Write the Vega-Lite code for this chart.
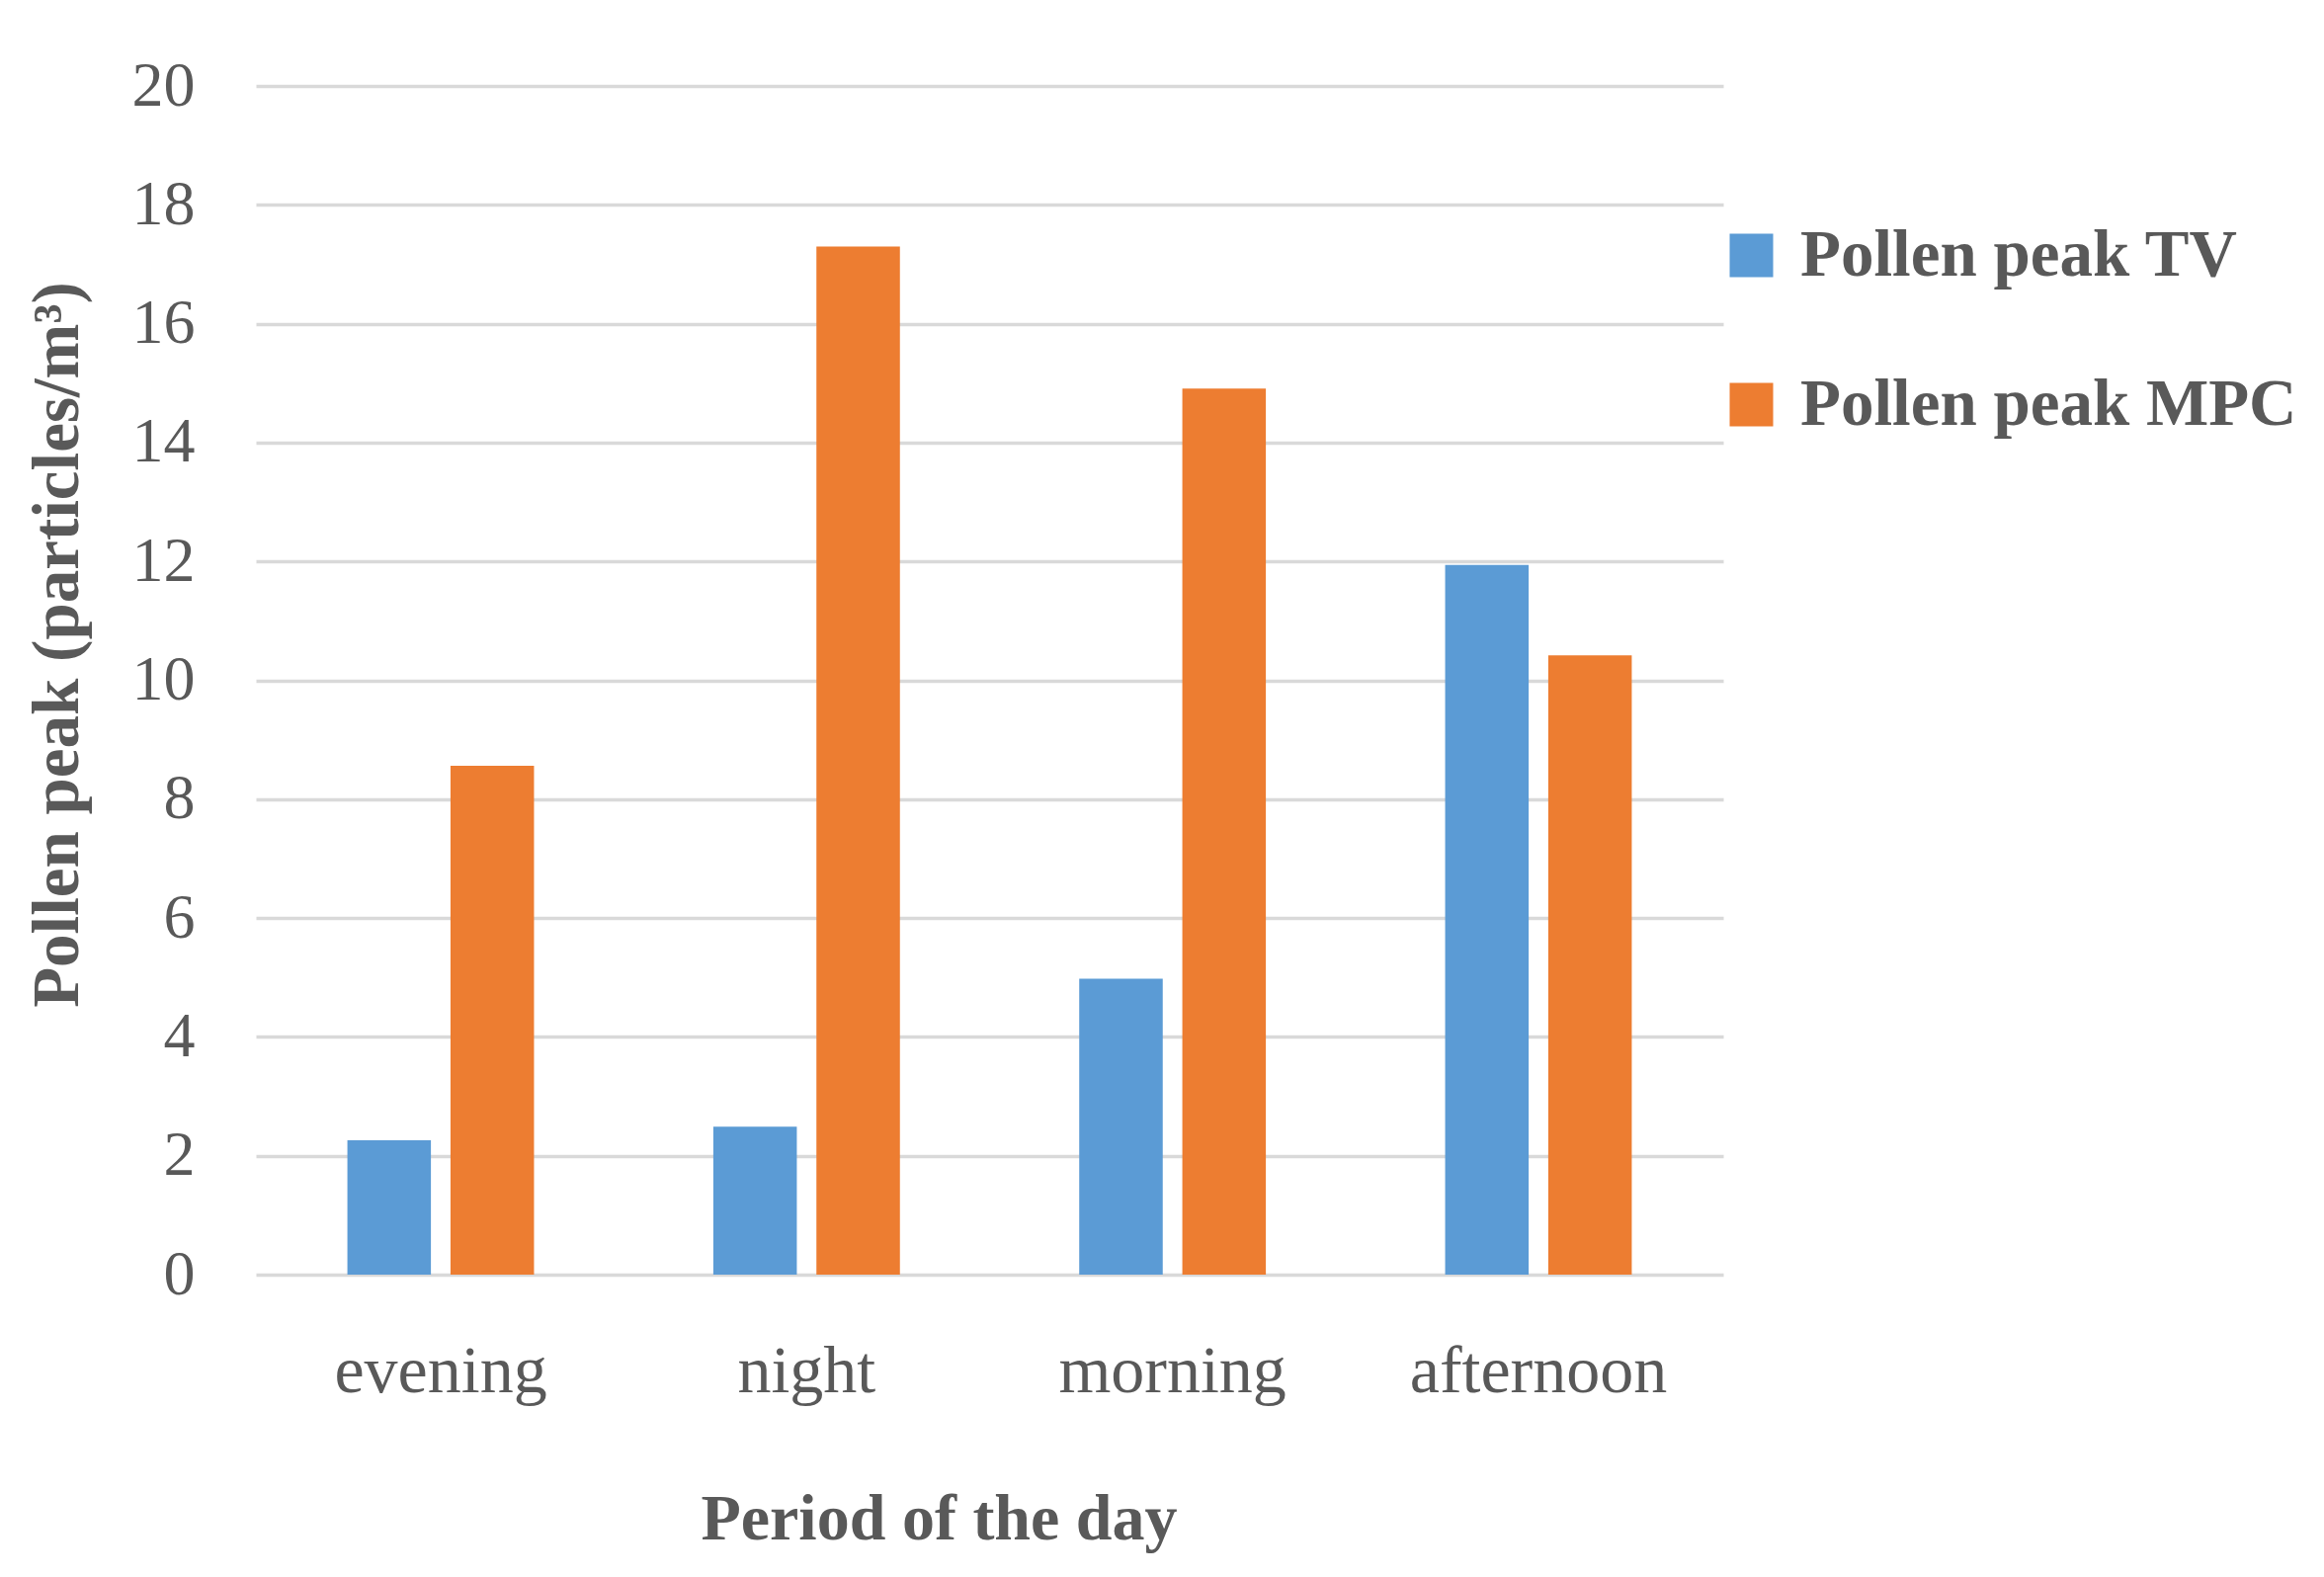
{
  "$schema": "https://vega.github.io/schema/vega-lite/v6.json",
  "autosize": "none",
  "width": 1485,
  "height": 1203,
  "padding": {"left": 259, "top": 87, "right": 608, "bottom": 306},
  "background": "white",
  "data": {
    "values": [
      {"period": "evening", "series": "Pollen peak TV", "value": 2.26},
      {"period": "evening", "series": "Pollen peak MPC", "value": 8.56},
      {"period": "night", "series": "Pollen peak TV", "value": 2.49},
      {"period": "night", "series": "Pollen peak MPC", "value": 17.3},
      {"period": "morning", "series": "Pollen peak TV", "value": 4.98},
      {"period": "morning", "series": "Pollen peak MPC", "value": 14.91},
      {"period": "afternoon", "series": "Pollen peak TV", "value": 11.94},
      {"period": "afternoon", "series": "Pollen peak MPC", "value": 10.42}
    ]
  },
  "config": {
    "view": {"stroke": null},
    "font": "Liberation Serif"
  },
  "mark": {"type": "bar"},
  "encoding": {
    "x": {
      "field": "period",
      "type": "nominal",
      "sort": ["evening", "night", "morning", "afternoon"],
      "scale": {"paddingInner": 0.49, "paddingOuter": 0.25},
      "axis": {
        "title": "Period of the day",
        "labelAngle": 0,
        "labelFont": "Liberation Serif",
        "labelFontSize": 68,
        "labelColor": "#595959",
        "labelBaseline": "alphabetic",
        "labelPadding": 118,
        "labelLimit": 0,
        "ticks": false,
        "tickSize": 0,
        "domain": false,
        "grid": false,
        "titleFont": "Liberation Serif",
        "titleFontSize": 66,
        "titleFontWeight": "bold",
        "titleColor": "#595959",
        "titleX": 691,
        "titleY": 267,
        "titleAlign": "center",
        "titleBaseline": "alphabetic"
      }
    },
    "xOffset": {
      "field": "series",
      "type": "nominal",
      "sort": ["Pollen peak TV", "Pollen peak MPC"],
      "scale": {"paddingInner": 0.19, "paddingOuter": 0}
    },
    "y": {
      "field": "value",
      "type": "quantitative",
      "scale": {"domain": [0, 20], "nice": false},
      "axis": {
        "title": "Pollen peak (particles/m³)",
        "values": [0, 2, 4, 6, 8, 10, 12, 14, 16, 18, 20],
        "labelFont": "Liberation Serif",
        "labelFontSize": 64,
        "labelColor": "#595959",
        "labelPadding": 62,
        "ticks": false,
        "tickSize": 0,
        "domain": false,
        "grid": true,
        "gridColor": "#D9D9D9",
        "gridWidth": 3.5,
        "titleFont": "Liberation Serif",
        "titleFontSize": 67,
        "titleFontWeight": "bold",
        "titleColor": "#595959",
        "titleAngle": -90,
        "titleX": -201,
        "titleY": 565,
        "titleAlign": "center",
        "titleBaseline": "middle"
      }
    },
    "color": {
      "field": "series",
      "type": "nominal",
      "sort": ["Pollen peak TV", "Pollen peak MPC"],
      "scale": {"domain": ["Pollen peak TV", "Pollen peak MPC"], "range": ["#5B9BD5", "#ED7D31"]},
      "legend": {
        "title": null,
        "orient": "none",
        "legendX": 1480,
        "legendY": 138,
        "padding": 0,
        "symbolType": "square",
        "symbolSize": 1936,
        "symbolStrokeWidth": 0,
        "symbolOpacity": 1,
        "labelFont": "Liberation Serif",
        "labelFontSize": 67,
        "labelFontWeight": "bold",
        "labelColor": "#595959",
        "labelOffset": 16,
        "labelLimit": 0,
        "rowPadding": 83
      }
    }
  }
}
